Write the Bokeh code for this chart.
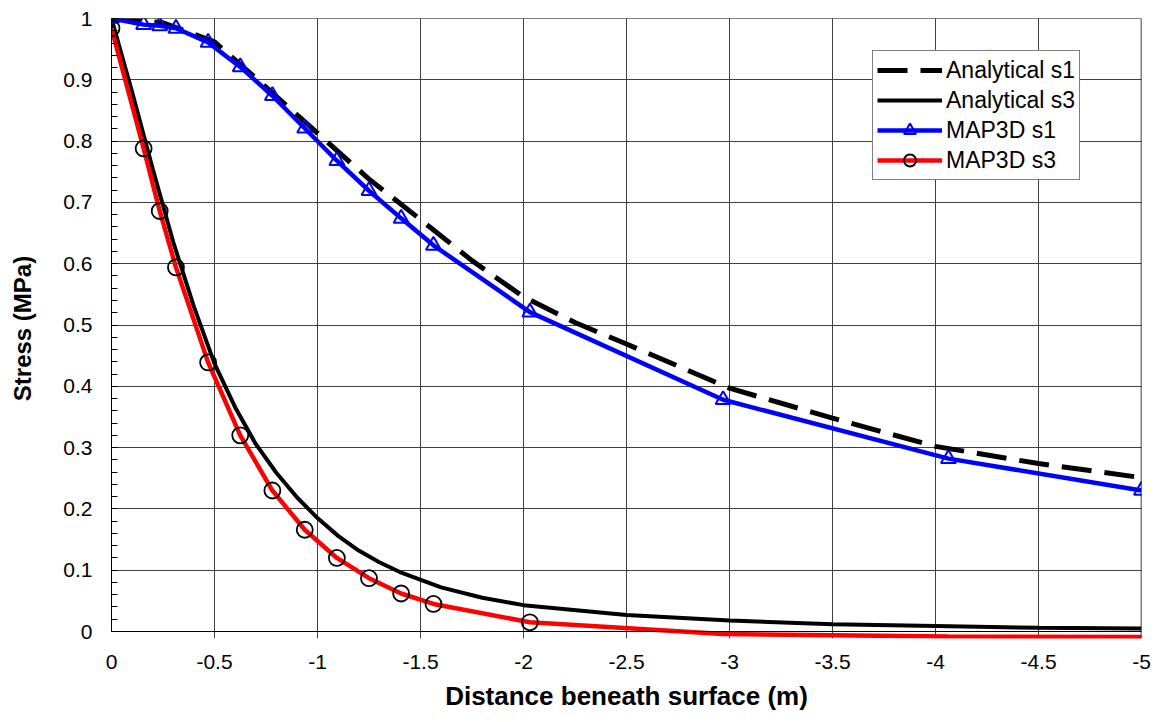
from bokeh.plotting import figure
from bokeh.models import Range1d, FixedTicker, Span, Legend, LegendItem
from bokeh.embed import file_html
from bokeh.resources import INLINE

# ---------------- data ----------------
ana_s1_x = [0, -0.25, -0.5, -0.75, -1.0, -1.25, -1.5, -1.75, -2.0, -2.25, -2.5, -3.0, -3.5, -4.0, -4.5, -5.0]
ana_s1_y = [1.0, 0.993, 0.962, 0.888, 0.813, 0.738, 0.672, 0.605, 0.546, 0.504, 0.469, 0.397, 0.348, 0.302, 0.274, 0.251]

ana_s3_x = [0, -0.1, -0.2, -0.3, -0.4, -0.5, -0.6, -0.7, -0.8, -0.9, -1.0, -1.1, -1.2, -1.3, -1.4, -1.6, -1.8,
            -2.0, -2.5, -3.0, -3.5, -4.0, -4.5, -5.0]
ana_s3_y = [1.0, 0.88, 0.755, 0.635, 0.53, 0.437, 0.366, 0.306, 0.259, 0.219, 0.185, 0.156, 0.132, 0.113, 0.097, 0.072, 0.055,
            0.043, 0.027, 0.018, 0.012, 0.009, 0.006, 0.005]

map_x = [0, -0.156, -0.234, -0.313, -0.469, -0.625, -0.781, -0.938, -1.094, -1.25, -1.406, -1.563,
         -2.031, -2.969, -4.063, -5.0]
map_s1 = [1.0, 0.99, 0.988, 0.984, 0.961, 0.921, 0.874, 0.821, 0.768, 0.719, 0.674, 0.630,
          0.521, 0.378, 0.282, 0.230]
map_s3 = [0.984, 0.788, 0.686, 0.594, 0.439, 0.320, 0.230, 0.166, 0.120, 0.087, 0.062, 0.045,
          0.015, -0.004, -0.008, -0.009]

x_ticks = [0, -0.5, -1, -1.5, -2, -2.5, -3, -3.5, -4, -4.5, -5]
x_tick_labels = ["0", "-0.5", "-1", "-1.5", "-2", "-2.5", "-3", "-3.5", "-4", "-4.5", "-5"]
y_ticks = [0, 0.1, 0.2, 0.3, 0.4, 0.5, 0.6, 0.7, 0.8, 0.9, 1]
y_tick_labels = ["0", "0.1", "0.2", "0.3", "0.4", "0.5", "0.6", "0.7", "0.8", "0.9", "1"]
y_minor = [i / 50 for i in range(51)]

x_title = "Distance beneath surface (m)"
y_title = "Stress (MPa)"
names = ["Analytical s1", "Analytical s3", "MAP3D s1", "MAP3D s3"]

FONT = "Liberation Sans"

# ---------------- figure ----------------
p = figure(width=1151, height=714, output_backend="svg", toolbar_location=None,
           x_range=Range1d(0, -5), y_range=Range1d(-0.0114, 1),
           min_border_left=111, min_border_right=10, min_border_top=18, min_border_bottom=76)
p.outline_line_color = None
p.background_fill_color = "white"
p.border_fill_color = "white"

# axes
p.xaxis.ticker = FixedTicker(ticks=x_ticks)
p.xaxis.major_label_overrides = dict(zip(x_ticks, x_tick_labels))
p.yaxis.ticker = FixedTicker(ticks=y_ticks, minor_ticks=y_minor)
p.yaxis.major_label_overrides = dict(zip(y_ticks, y_tick_labels))

p.xaxis.axis_line_color = None
p.xaxis.major_tick_out = 0
p.xaxis.major_tick_in = 0
p.xaxis.minor_tick_line_color = None
p.xaxis.major_label_standoff = 16
p.xaxis.axis_label = x_title
p.xaxis.axis_label_standoff = 9

p.yaxis.bounds = (0, 1)
p.yaxis.axis_line_color = "black"
p.yaxis.axis_line_width = 1
p.yaxis.major_tick_in = 6
p.yaxis.major_tick_out = 0
p.yaxis.minor_tick_in = 6
p.yaxis.minor_tick_out = 0
p.yaxis.minor_tick_line_color = "black"
p.yaxis.major_label_standoff = 19
p.yaxis.axis_label = y_title
p.yaxis.axis_label_standoff = 24

for ax in (p.xaxis, p.yaxis):
    ax.major_label_text_font = FONT
    ax.major_label_text_font_size = "21px"
    ax.major_label_text_color = "black"
    ax.axis_label_text_font = FONT
    ax.axis_label_text_font_style = "bold"
    ax.axis_label_text_color = "black"
p.xaxis.axis_label_text_font_size = "26px"
p.yaxis.axis_label_text_font_size = "24px"

# grid
p.xgrid.ticker = FixedTicker(ticks=x_ticks)
p.ygrid.ticker = FixedTicker(ticks=y_ticks)
for g in (p.xgrid, p.ygrid):
    g.grid_line_color = "#404040"
    g.grid_line_width = 1

# frame lines
p.add_layout(Span(location=0, dimension="width", line_color="black", line_width=1))
p.add_layout(Span(location=1, dimension="width", line_color="black", line_width=1))
p.add_layout(Span(location=-5, dimension="height", line_color="black", line_width=1.5))

# ---------------- series ----------------
r_a1 = p.line(ana_s1_x, ana_s1_y, line_color="black", line_width=5, line_dash="30 13")
r_a3 = p.line(ana_s3_x, ana_s3_y, line_color="black", line_width=4)
r_m1 = p.line(map_x, map_s1, line_color="#0000FF", line_width=4.5)
r_m1m = p.scatter(map_x, map_s1, marker="triangle", size=15, fill_color=None,
                  line_color="#0000FF", line_width=2)
r_m3 = p.line(map_x, map_s3, line_color="#FF0000", line_width=4.5)
vis_x = [x for x, y in zip(map_x, map_s3) if y >= 0]
vis_y = [y for y in map_s3 if y >= 0]
r_m3m = p.scatter(vis_x, vis_y, marker="circle", size=16, fill_color=None,
                  line_color="black", line_width=1.8)

legend = Legend(items=[
    LegendItem(label=names[0], renderers=[r_a1]),
    LegendItem(label=names[1], renderers=[r_a3]),
    LegendItem(label=names[2], renderers=[r_m1, r_m1m]),
    LegendItem(label=names[3], renderers=[r_m3, r_m3m]),
], location=(761, 458))
legend.label_text_font = FONT
legend.label_text_font_size = "23px"
legend.label_text_color = "black"
legend.glyph_width = 65
legend.glyph_height = 30
legend.label_height = 30
legend.label_standoff = 4
legend.spacing = 0
legend.padding = 4
legend.margin = 0
legend.border_line_color = "black"
legend.border_line_width = 1
legend.background_fill_color = "white"
legend.background_fill_alpha = 1
p.add_layout(legend, "center")

open("out.html", "w").write(file_html(p, INLINE))
